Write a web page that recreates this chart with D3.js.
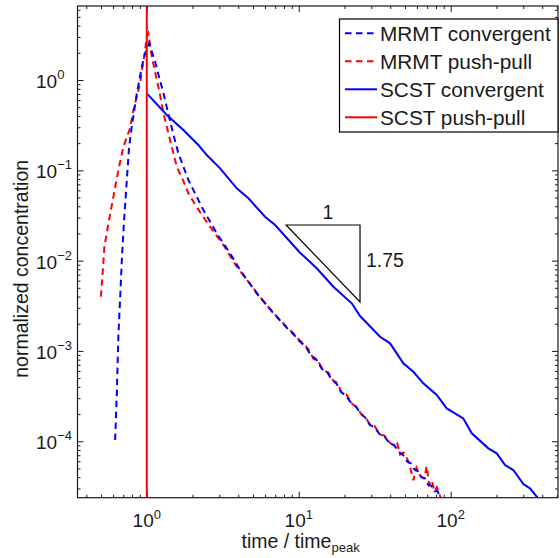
<!DOCTYPE html>
<html>
<head>
<meta charset="utf-8">
<script src="https://cdn.jsdelivr.net/npm/d3@7"></script>
<style>
  body { margin: 0; background: #fff; }
  text { font-family: "Liberation Sans", Arial, sans-serif; fill: #1a1a1a; }
</style>
</head>
<body>
<svg id="chart" width="560" height="558"></svg>
<script>
// MRMT push-pull (red dashed)
const mrmtPushX = [0.498, 0.5105, 0.526, 0.559, 0.603, 0.650, 0.702, 0.776, 0.817, 0.903, 0.975, 1.0, 1.024,
  1.079, 1.15, 1.223, 1.286, 1.354, 1.496, 1.575, 1.741, 1.878, 2.133, 2.609, 3.191, 3.909, 5.027, 6.16, 7.53,
  8.3, 9.21, 10.0, 10.72, 11.6, 12.48, 13.4, 14.52, 15.6, 16.89, 18.0, 19.18, 20.6, 22.32, 24.0, 25.97, 27.6,
  29.45, 31.5, 34.26, 36.5, 39.87, 42.5, 44.5, 46.4, 49, 51.3, 54, 56.8, 59.5, 62.8, 65.5, 68, 69.5, 72, 75,
  78, 81, 85, 89];
const mrmtPushY = [0.00398, 0.00664, 0.01426, 0.0259, 0.051, 0.1008, 0.1825, 0.292, 0.465, 0.919, 2.15, 3.0, 3.29,
  1.81, 1.1, 0.682, 0.43, 0.304, 0.1543, 0.1097, 0.076, 0.0556, 0.039, 0.0237, 0.01489, 0.00856, 0.00493, 0.00322, 0.0022,
  0.00186, 0.00157, 0.00134, 0.00121, 0.00104, 0.00082, 0.00077, 0.00061, 0.00058, 0.00047, 0.00044, 0.00034, 0.00033,
  0.000262, 0.000238, 0.000196, 0.000182, 0.000152, 0.000148, 0.000118, 0.000116, 0.000096, 0.000088, 0.000094,
  0.000071, 0.000075, 0.000067, 0.000052, 0.000037, 0.000051, 0.000042, 0.000039, 0.000044, 0.000053, 0.000033,
  0.000037, 0.000028, 0.000031, 0.000025, 0.000021];

// MRMT convergent (blue dashed)
const mrmtConvX = [0.619, 0.635, 0.650, 0.667, 0.685, 0.709, 0.739, 0.765, 0.797, 0.86, 0.927, 0.975, 1.035,
  1.134, 1.21, 1.286, 1.387, 1.496, 1.614, 1.878, 2.357, 2.887, 3.532, 4.11, 5.29, 6.81,
  8.4, 9.3, 10.1, 11.0, 12.0, 13.0, 14.2, 15.2, 16.5, 17.8, 19.0, 20.4, 22.0, 23.8, 25.6, 27.4, 29.3, 31.6,
  34.0, 36.8, 39.5, 42.3, 45.5, 48.4, 51.5, 54.5, 57.5, 60.5, 64, 67.5, 71, 74.5, 78, 82, 86, 90];
const mrmtConvY = [0.000103, 0.000339, 0.001437, 0.00366, 0.01015, 0.0282, 0.0781, 0.1825, 0.304, 0.71, 1.40, 1.97, 2.55,
  1.6, 1.05, 0.72, 0.42, 0.25, 0.1543, 0.0781, 0.0363, 0.02006, 0.01204, 0.00787, 0.00434, 0.00261,
  0.00178, 0.00151, 0.00128, 0.00114, 0.00090, 0.00081, 0.00063, 0.00060, 0.00048, 0.00043, 0.00035, 0.00032,
  0.00027, 0.000242, 0.000202, 0.000183, 0.000152, 0.000142, 0.000120, 0.000112, 0.000095, 0.000091, 0.000076,
  0.000071, 0.000060, 0.000057, 0.000049, 0.000047, 0.000040, 0.000039, 0.000033, 0.000032, 0.000028, 0.000028,
  0.000023, 0.000021];

// SCST convergent (blue solid)
const scstConvX = [1.0, 1.354, 1.741, 2.185, 2.481, 3.035, 3.909, 4.661, 6.0, 6.985, 10.2, 13.13, 16.89, 22.32,
  25.31, 34.26, 39.87, 48.78, 56.75, 66.03, 80.9, 94.1, 121.0, 137.5, 176.8, 200.7, 227.7, 258.1, 300.4, 332.4,
  371.3, 410];
const scstConvY = [0.71, 0.41, 0.2795, 0.1906, 0.1477, 0.1052, 0.0632, 0.049, 0.0306, 0.0248, 0.01224, 0.00822,
  0.00514, 0.003366, 0.002434, 0.001437, 0.001214, 0.000729, 0.000588, 0.000438, 0.000325, 0.000231, 0.000179,
  0.0001224, 0.0000834, 0.0000735, 0.0000545, 0.000048, 0.0000336, 0.0000301, 0.0000239, 0.000019];

// SCST push-pull (red solid): pulse at t = t_peak
const scstPushX = [1, 1];
const scstPushY = [0.00001, 10];

const legendLabels = ["MRMT convergent", "MRMT push-pull", "SCST convergent", "SCST push-pull"];
const legendColors = ["#0000ff", "#ff0000", "#0000ff", "#ff0000"];
const legendDashed = [true, true, false, false];

const xMajor = [1, 10, 100];
const xExp = ["0", "1", "2"];
const yMajor = [1e0, 1e-1, 1e-2, 1e-3, 1e-4];
const yExp = ["0", "\u22121", "\u22122", "\u22123", "\u22124"];

const slopeRun = "1";
const slopeRise = "1.75";
const slopeX = [8.25, 25.3];
const slopeTopY = 0.0248;
const slopeValue = 1.75;

// layout
const pLeft = 77.5, pRight = 558, pTop = 6, pBottom = 497.7;
const svg = d3.select("#chart");

const x = d3.scaleLog().domain([0.35, 508]).range([pLeft, pRight]);
const y = d3.scaleLog().domain([2.37e-5, 6.6]).range([pBottom, pTop]);

// minor tick values
function minorTicks(scale) {
  const [a, b] = scale.domain();
  const out = [];
  for (let e = Math.floor(Math.log10(a)); e <= Math.ceil(Math.log10(b)); e++) {
    for (let m = 2; m <= 9; m++) {
      const v = m * Math.pow(10, e);
      if (v >= a && v <= b) out.push(v);
    }
  }
  return out;
}

const axes = svg.append("g").attr("class", "axes");
function addAxis(axisFn, scale, values, size, transform) {
  const g = axes.append("g")
    .attr("transform", transform)
    .call(axisFn(scale).tickValues(values).tickSize(size).tickFormat(""));
  g.select(".domain").remove();
  g.selectAll(".tick line").attr("stroke", "#1a1a1a").attr("stroke-width", 1);
}
addAxis(d3.axisBottom, x, xMajor, -6, `translate(0,${pBottom})`);
addAxis(d3.axisBottom, x, minorTicks(x), -3, `translate(0,${pBottom})`);
addAxis(d3.axisTop, x, xMajor, -6, `translate(0,${pTop})`);
addAxis(d3.axisTop, x, minorTicks(x), -3, `translate(0,${pTop})`);
addAxis(d3.axisLeft, y, yMajor, -6, `translate(${pLeft},0)`);
addAxis(d3.axisLeft, y, minorTicks(y), -3, `translate(${pLeft},0)`);
addAxis(d3.axisRight, y, yMajor, -6, `translate(${pRight},0)`);
addAxis(d3.axisRight, y, minorTicks(y), -3, `translate(${pRight},0)`);

// clip
svg.append("defs").append("clipPath").attr("id", "plot-clip")
  .append("rect").attr("x", pLeft).attr("y", pTop).attr("width", pRight - pLeft).attr("height", pBottom - pTop);

const line = d3.line().x(d => x(d[0])).y(d => y(d[1]));
const plot = svg.append("g").attr("clip-path", "url(#plot-clip)");

const series = [
  { xs: mrmtPushX, ys: mrmtPushY, color: "#ff0000", dashed: true },
  { xs: mrmtConvX, ys: mrmtConvY, color: "#0000ff", dashed: true },
  { xs: scstConvX, ys: scstConvY, color: "#0000ff", dashed: false },
  { xs: scstPushX, ys: scstPushY, color: "#ff0000", dashed: false }
];
series.forEach(s => {
  plot.append("path")
    .datum(s.xs.map((v, i) => [v, s.ys[i]]))
    .attr("d", line)
    .attr("fill", "none")
    .attr("stroke", s.color)
    .attr("stroke-width", 2)
    .attr("stroke-dasharray", s.dashed ? "6.5 4.5" : null);
});

// slope triangle
const slopeBotY = slopeTopY * Math.pow(slopeX[1] / slopeX[0], -slopeValue);
svg.append("path")
  .attr("d", `M${x(slopeX[0])},${y(slopeTopY)}L${x(slopeX[1])},${y(slopeTopY)}L${x(slopeX[1])},${y(slopeBotY)}Z`)
  .attr("fill", "none")
  .attr("stroke", "#000")
  .attr("stroke-width", 1.2);
svg.append("text")
  .attr("x", (x(slopeX[0]) + x(slopeX[1])) / 2 + 5)
  .attr("y", y(slopeTopY) - 6)
  .attr("text-anchor", "middle")
  .style("font-size", "19.5px")
  .text(slopeRun);
svg.append("text")
  .attr("x", x(slopeX[1]) + 6)
  .attr("y", (y(slopeTopY) + y(slopeBotY)) / 2 + 4)
  .style("font-size", "19.5px")
  .text(slopeRise);

// box
svg.append("rect")
  .attr("x", pLeft).attr("y", pTop).attr("width", pRight - pLeft).attr("height", pBottom - pTop)
  .attr("fill", "none").attr("stroke", "#1a1a1a").attr("stroke-width", 1.2);

// tick labels
xMajor.forEach((v, i) => {
  const t = svg.append("text")
    .attr("x", x(v))
    .attr("y", pBottom + 29.5)
    .attr("text-anchor", "middle")
    .style("font-size", "19px");
  t.append("tspan").text("10");
  t.append("tspan").attr("dy", -8).style("font-size", "13px").text(xExp[i]);
});
yMajor.forEach((v, i) => {
  const t = svg.append("text")
    .attr("x", pLeft - 41.5)
    .attr("y", y(v) + 8)
    .style("font-size", "19px");
  t.append("tspan").text("10");
  t.append("tspan").attr("dy", -9).style("font-size", "13px").text(yExp[i]);
});

// axis labels
const xl = svg.append("text")
  .attr("x", 241.5)
  .attr("y", 548)
  .style("font-size", "19.5px");
xl.append("tspan").text("time / time");
xl.append("tspan").attr("dy", 4).style("font-size", "13px").text("peak");

svg.append("text")
  .attr("transform", `translate(28,${(pTop + pBottom) / 2 + 17}) rotate(-90)`)
  .attr("text-anchor", "middle")
  .style("font-size", "19.5px")
  .text("normalized concentration");

// legend
const lg = svg.append("g");
lg.append("rect")
  .attr("x", 339.5).attr("y", 19).attr("width", 218.5).attr("height", 113)
  .attr("fill", "#fff").attr("stroke", "#000").attr("stroke-width", 1.2);
legendLabels.forEach((name, i) => {
  const yy = 33.3 + i * 28;
  lg.append("line")
    .attr("x1", 345).attr("x2", 377).attr("y1", yy).attr("y2", yy)
    .attr("stroke", legendColors[i]).attr("stroke-width", 2)
    .attr("stroke-dasharray", legendDashed[i] ? "6.5 4.5" : null);
  lg.append("text")
    .attr("x", 380).attr("y", yy + 7.3)
    .style("font-size", "20.8px")
    .text(name);
});
</script>
</body>
</html>
